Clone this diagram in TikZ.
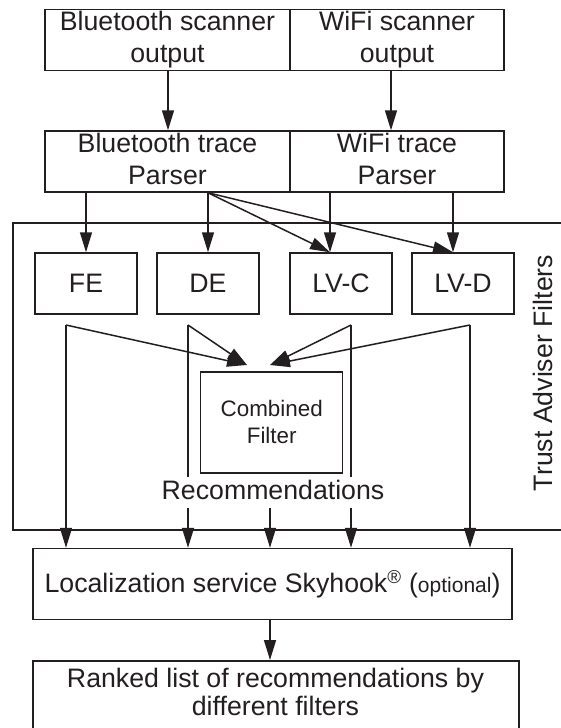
\documentclass[tikz,border=0pt]{standalone}
\usepackage{fontspec}
\setmainfont{Liberation Sans}
\usetikzlibrary{arrows.meta}
\definecolor{ink}{RGB}{35,31,32}
\begin{document}
\begin{tikzpicture}[x=1pt,y=-1pt,color=ink,line width=1.5pt,
  box/.style={draw,line width=1.5pt,inner sep=0pt,align=center,
    font=\fontsize{26.7}{32}\selectfont},
  lbl/.style={inner sep=0pt,align=center,font=\fontsize{26.7}{32}\selectfont},
  arr/.style={line width=1.5pt,-{Triangle[length=20pt,width=12pt]}},
  seg/.style={line width=1.5pt}]
\useasboundingbox (0,0) rectangle (561,728);
\clip (0,0) rectangle (561,728);
% trust adviser frame
\node[draw,line width=1.5pt,inner sep=0pt,minimum width=562pt,minimum height=307pt] (tab) at (294,376.5) {};
\node[lbl,rotate=90] (tablbl) at (543,373) {Trust Adviser Filters};
% scanners
\node[box,minimum width=245pt,minimum height=61pt] (bts) at (167.5,40) {Bluetooth scanner\\output};
\node[box,minimum width=214pt,minimum height=61pt] (wfs) at (397,40) {WiFi scanner\\output};
% parsers
\node[box,minimum width=245pt,minimum height=61pt] (btp) at (167.5,161.5) {Bluetooth trace\\Parser\vphantom{p}};
\node[box,minimum width=214pt,minimum height=61pt] (wfp) at (397,161.5) {WiFi trace\\Parser\vphantom{p}};
% filters
\node[box,minimum width=102pt,minimum height=61pt] (fe) at (86,283.5) {FE};
\node[box,minimum width=102pt,minimum height=61pt] (de) at (208,283.5) {DE};
\node[box,minimum width=102pt,minimum height=61pt] (lvc) at (341,283.5) {LV-C};
\node[box,minimum width=102pt,minimum height=61pt] (lvd) at (463,283.5) {LV-D};
% combined
\node[box,minimum width=142pt,minimum height=101pt,font=\fontsize{22.4}{27}\selectfont] (comb) at (271.7,422.3) {Combined\\Filter};
\node[lbl] (rec) at (273,490.3) {Recommendations};
% localization
\node[box,minimum width=479pt,minimum height=71pt] (loc) at (272.5,584)
  {Localization service Skyhook\textsuperscript{\textregistered}\ ({\fontsize{21}{25}\selectfont optional})};
% ranked
\node[draw,line width=1.5pt,inner sep=0pt,anchor=north,minimum width=486pt,minimum height=110pt] (rank) at (276,660) {};
\node[lbl,font=\fontsize{26.7}{28}\selectfont] (ranktxt) at (275.5,692.3) {Ranked list of recommendations by\\different filters};
% scanner -> parser
\draw[arr] (bts.south -| 168,0) -- (btp.north -| 168,0);
\draw[arr] (wfs.south -| 391,0) -- (wfp.north -| 391,0);
% parser -> filters
\coordinate (bo) at (btp.south -| de.north);
\draw[arr] (btp.south -| fe.north) -- (fe.north);
\draw[arr] (bo) -- (de.north);
\draw[arr] (bo) -- (lvc.north -| 330,0);
\draw[arr] (bo) -- (lvd.north -| 453,0);
\draw[arr] (wfp.south -| 330,0) -- (lvc.north -| 330,0);
\draw[arr] (wfp.south -| 453,0) -- (lvd.north -| 453,0);
% filter outputs
\coordinate (c1) at (66,325);
\coordinate (c2) at (188,325);
\coordinate (c3) at (351,325);
\coordinate (c4) at (470,325);
\coordinate (tl) at (247,365);
\coordinate (tr) at (270,365);
\coordinate (g2a) at (188,477);
\coordinate (g2b) at (188,508);
\coordinate (g3a) at (351,477);
\coordinate (g3b) at (351,508);
\coordinate (gm) at (270,508);
\draw[arr] (c1) -- (tl);
\draw[arr] (c2) -- (tl);
\draw[arr] (c3) -- (tr);
\draw[arr] (c4) -- (tr);
\draw[arr] (c1) -- (c1 |- loc.north);
\draw[seg] (c2) -- (g2a);
\draw[arr] (g2b) -- (g2b |- loc.north);
\draw[seg] (c3) -- (g3a);
\draw[arr] (g3b) -- (g3b |- loc.north);
\draw[arr] (gm) -- (gm |- loc.north);
\draw[arr] (c4) -- (c4 |- loc.north);
% loc -> ranked
\draw[arr] (loc.south -| 270,0) -- (rank.north -| 270,0);
\end{tikzpicture}
\end{document}
